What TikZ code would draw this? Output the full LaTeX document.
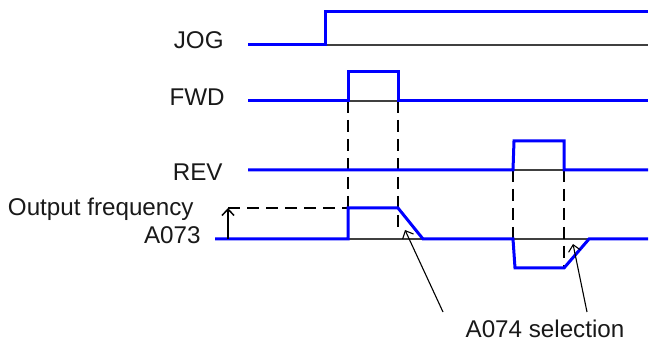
\documentclass[tikz,border=0pt]{standalone}
\usepackage{fontspec}
\setmainfont{Liberation Sans}
\usetikzlibrary{arrows.meta}
\tikzset{
  sig/.style={draw=blue, line width=1.5pt},
  baseline/.style={draw=black!75, line width=0.7pt},
  guide/.style={draw=black, line width=0.75pt, dash pattern=on 6pt off 3.5pt},
  lbl/.style={anchor=base east, inner sep=0pt, text=black!90, font=\fontsize{12.1}{14}\selectfont},
  pointer/.style={draw=black, line width=0.55pt, ->},
}
\begin{document}
\begin{tikzpicture}[x=0.5pt, y=-0.5pt, >={Straight Barb[length=3.2pt,width=6pt]}]
        \useasboundingbox (0,0) rectangle (653,341);

        \node[lbl] (jog) at (224,49) {JOG};
        \node[lbl] (fwd) at (225,106) {FWD};
        \node[lbl] (rev) at (223,181) {REV};
        \node[lbl] (outf) at (194,216) {Output frequency};
        \node[lbl] (a073) at (201,244) {A073};
        \node[lbl, anchor=base] (sel) at (545,338) {A074 selection};

        % thin reference lines
        \draw[baseline] (325,45)--(648,45);
        \draw[baseline] (348,101)--(398,101);
        \draw[baseline] (513,170)--(564,170);
        \draw[baseline] (348,239)--(423,239);
        \draw[baseline] (513,239)--(589,239);

        % dashed guides
        \draw[guide] (348,101)--(348,208);
        \draw[guide] (398,101)--(398,232);
        \draw[guide] (513,170)--(513,239);
        \draw[guide] (564,170)--(564,268);
        \draw[guide] (228,208)--(348,208);

        % signals
        \draw[sig] (248,45)--(325,45)--(325,12)--(648,12);
        \draw[sig] (248,101)--(348,101)--(348,72)--(398,72)--(398,101)--(648,101);
        \draw[sig] (248,170)--(513,170)--(514,141)--(564,141)--(564,170)--(648,170);
        \draw[sig] (215,239)--(348,239)--(348,208)--(398,208)--(423,239)--(513,239)--(515,268)--(564,268)--(589,239)--(648,239);

        % output frequency arrow
        \coordinate (f0) at (228,239);
        \coordinate (f1) at (228,208);
        \draw[pointer, line width=0.75pt] (f0)--(f1);

        % A074 pointers
        \coordinate (p1) at (443,312);
        \coordinate (t1) at (405,230);
        \coordinate (p2) at (587,312);
        \coordinate (t2) at (573,244);
        \draw[pointer] (p1)--(t1);
        \draw[pointer] (p2)--(t2);
\end{tikzpicture}
\end{document}
